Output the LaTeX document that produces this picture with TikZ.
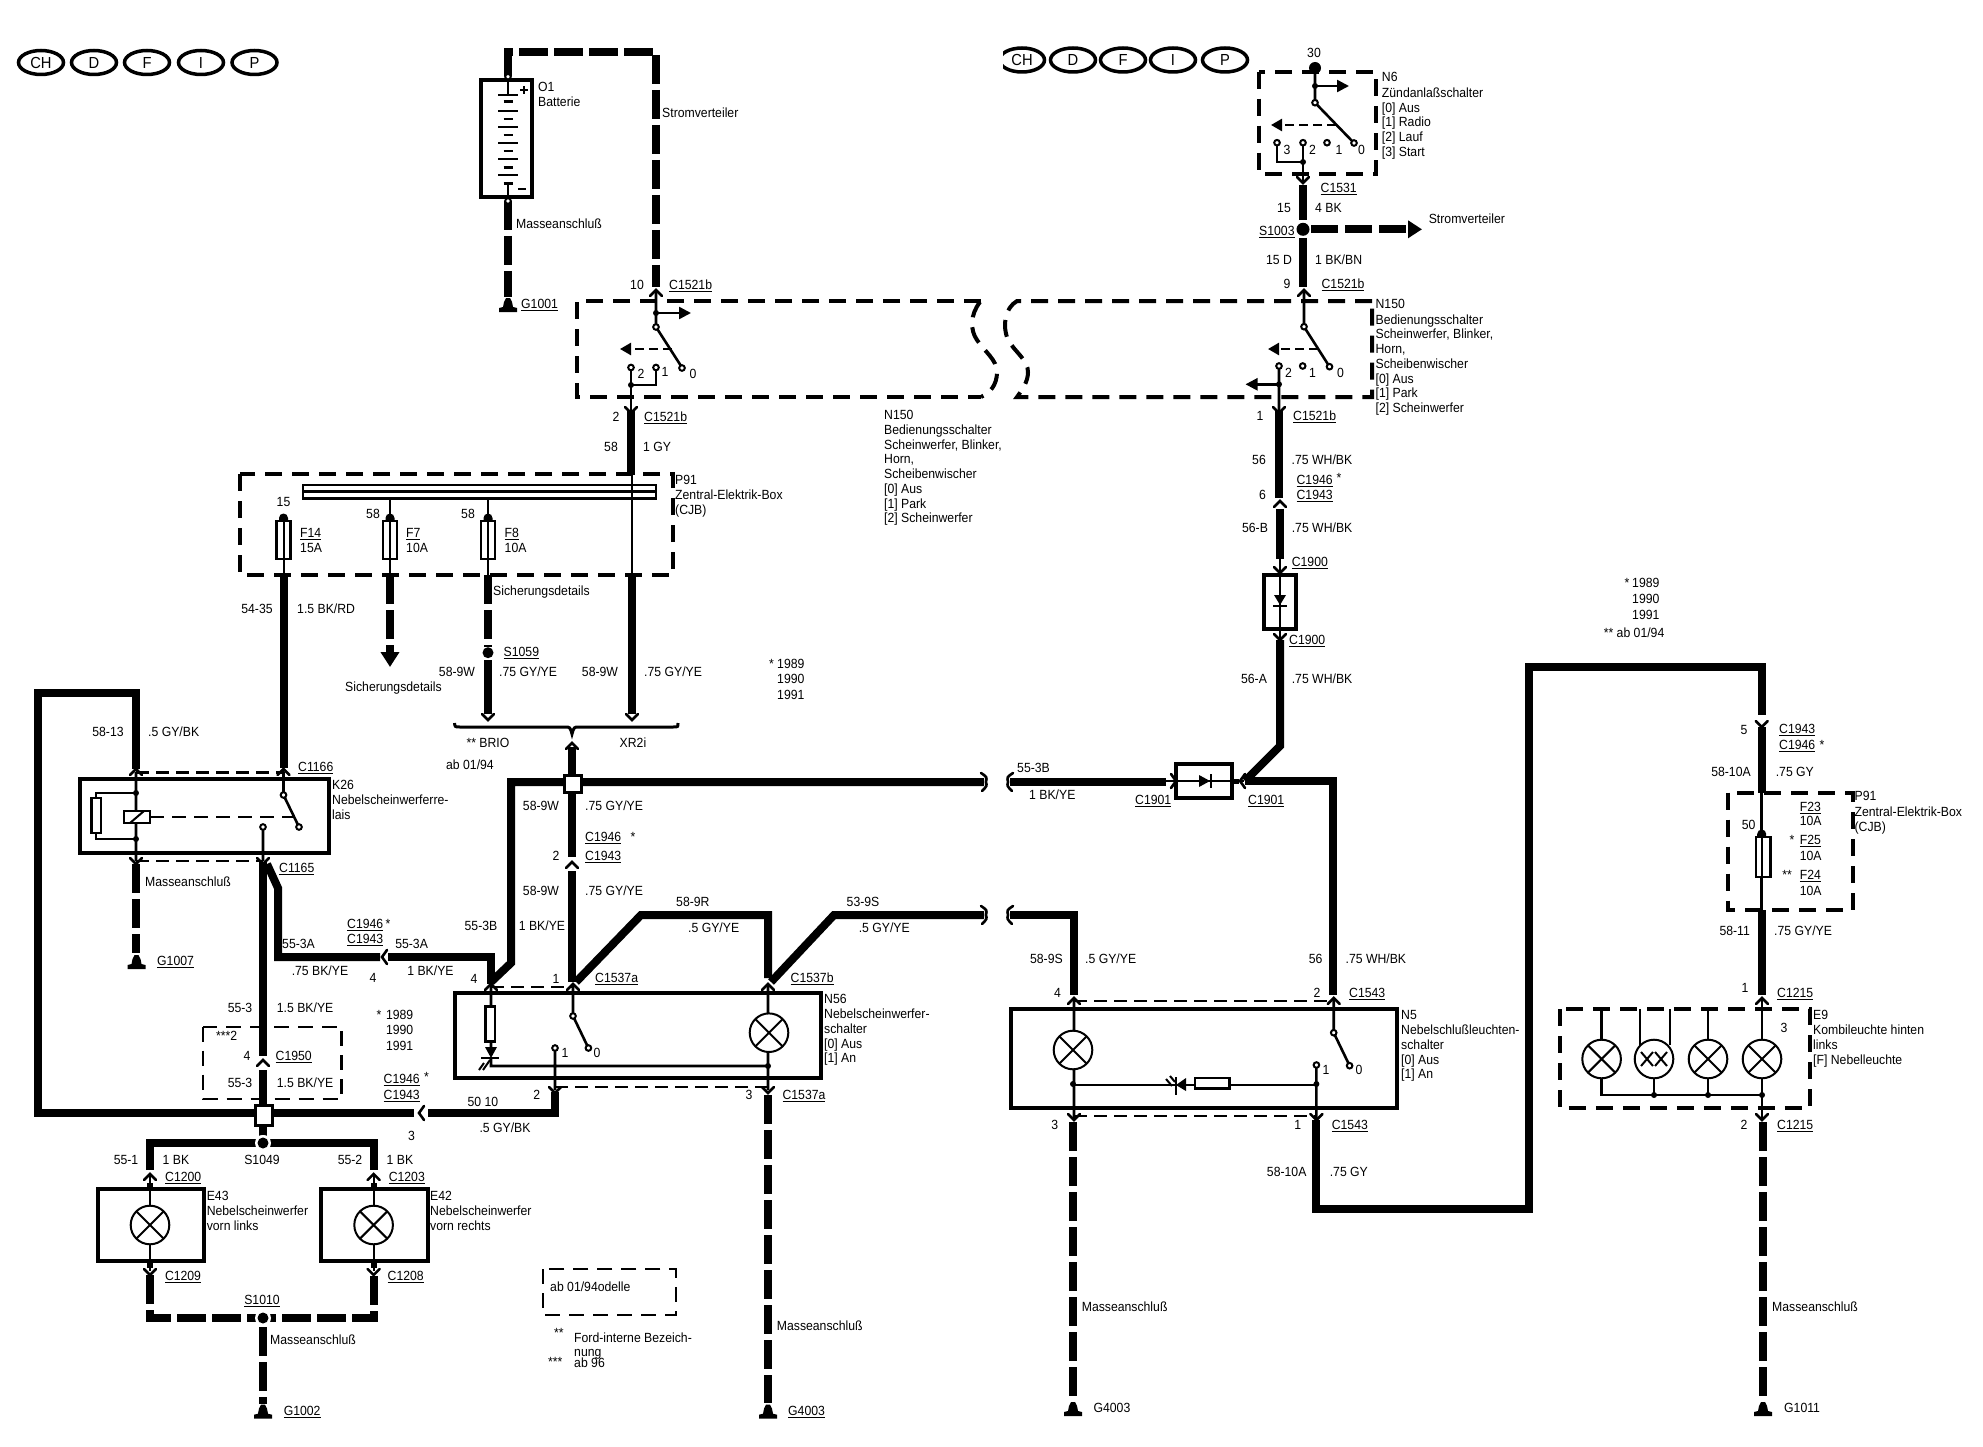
\documentclass[tikz,border=0pt]{standalone}
\usepackage{fontspec}
\setmainfont[FakeStretch=0.92]{Liberation Sans}
\usetikzlibrary{arrows.meta,shapes.geometric}
\newcount\nodeno
\newcommand{\ulbl}[1]{\setbox0\hbox{#1}\rlap{\rule[-2.6pt]{\wd0}{1.2pt}}\box0}
\newcommand{\txtl}[3]{\global\advance\nodeno by 1\node[lbl,anchor=west] (n\the\nodeno) at (#1,#2) {#3};}
\newcommand{\txtc}[3]{\global\advance\nodeno by 1\node[lbl,anchor=center] (n\the\nodeno) at (#1,#2) {#3};}
\newcommand{\txtu}[3]{\global\advance\nodeno by 1\node[lbl,anchor=west] (n\the\nodeno) at (#1,#2) {\ulbl{#3}};}
\newcommand{\flagoval}[3]{\global\advance\nodeno by 1\node[ovl] (n\the\nodeno) at (#1,#2) {#3};}
\newcommand{\fup}[2]{\draw[forkl] (#1-6,#2+6) -- (#1,#2) -- (#1+6,#2+6);}
\newcommand{\fdn}[2]{\draw[forkl] (#1-6,#2-6) -- (#1,#2) -- (#1+6,#2-6);}
\newcommand{\flf}[2]{\draw[forkl] (#1+5,#2-7) -- (#1,#2) -- (#1+5,#2+7);}
\newcommand{\frt}[2]{\draw[forkl] (#1-5,#2-7) -- (#1,#2) -- (#1-5,#2+7);}
\newcommand{\ccon}[2]{\draw[tl,fill=white] (#1,#2) circle[radius=2.8];}
\newcommand{\jdot}[2]{\fill (#1,#2) circle[radius=3];}
\newcommand{\lamp}[2]{\draw[tl,fill=white] (#1,#2) circle[radius=19.3];
  \draw[tl] (#1-13.6,#2-13.6) -- (#1+13.6,#2+13.6) (#1-13.6,#2+13.6) -- (#1+13.6,#2-13.6);}
\newcommand{\gnd}[2]{\fill (#1-9,#2+7) -- (#1+9,#2+7) -- (#1+9,#2+3) -- (#1+5,#2+2) -- (#1+4,#2-3) -- (#1+2,#2-7) -- (#1-2,#2-7) -- (#1-4,#2-3) -- (#1-5,#2+2) -- (#1-9,#2+3) -- cycle;}
\newcommand{\bell}[2]{\fill (#1-4.5,#2) -- (#1-4.5,#2-3) arc[start angle=180,end angle=360,radius=4.5] -- (#1+4.5,#2) -- cycle;}
\newcommand{\fuse}[3]{\draw[tl2,fill=white] (#1-7,#2) rectangle (#1+7,#3); \draw[tl] (#1,#2) -- (#1,#3);}
\newcommand{\brkr}[2]{\draw[forkl] (#1-3,#2-9) .. controls (#1+3,#2-5) .. (#1+2,#2) .. controls (#1+3,#2+4) .. (#1-2,#2+9);}
\newcommand{\brkl}[2]{\draw[forkl] (#1+3,#2-9) .. controls (#1-3,#2-5) .. (#1-2,#2) .. controls (#1-3,#2+4) .. (#1+2,#2+9);}
\tikzset{
  lbl/.style={inner sep=0pt,text height=9pt,text depth=0pt,font=\fontsize{13.3}{15}\selectfont},
  ovl/.style={draw,ellipse,line width=3.5pt,minimum width=45pt,minimum height=24pt,inner sep=0pt,font=\fontsize{16}{18}\selectfont},
  wire/.style={line width=8pt,miter limit=10},
  wdash/.style={line width=8pt,dash pattern=on 29pt off 6pt},
  tl/.style={line width=2pt},
  tl2/.style={line width=2.6pt},
  forkl/.style={line width=2.6pt,line cap=round},
  thin dash/.style={line width=2.4pt,dash pattern=on 13pt off 7pt},
  boxd/.style={line width=4pt,dash pattern=on 17pt off 10pt},
  boxs/.style={line width=2.4pt,dash pattern=on 15pt off 9pt},
  comp/.style={line width=4pt},
  harr/.style={line width=2.4pt,-{Triangle[length=12pt,width=12pt]}},
  darr/.style={line width=2.4pt,dash pattern=on 9pt off 5pt,-{Triangle[length=11pt,width=12pt]}},
}
\begin{document}
\begin{tikzpicture}[x=1pt,y=-1pt]
\useasboundingbox (0,0) rectangle (1983,1447);
% flag ovals
\flagoval{41}{62.5}{CH}\flagoval{94}{62.5}{D}\flagoval{147}{62.5}{F}\flagoval{201}{62.5}{I}\flagoval{254.5}{62.5}{P}
\flagoval{1022}{60}{CH}\flagoval{1073}{60}{D}\flagoval{1123}{60}{F}\flagoval{1173}{60}{I}\flagoval{1225}{60}{P}
\fill[white] (990,40) rectangle (1002.5,80);

% ---------- battery
\coordinate (b1) at (508,76);\coordinate (b2) at (508,52);\coordinate (b3) at (656,52);\coordinate (b4) at (656,287);
\coordinate (b5) at (508,201);\coordinate (g1) at (508,297);
\draw[wdash] (b1)--(b2)--(b3)--(b4);
\draw[wdash] (b5)--(g1);
\draw[comp,fill=white] (481,80) rectangle (532,197);
\draw[tl] (508,76)--(508,95) (508,183)--(508,201);
\foreach \y in {95,111,127,143,175}{\draw[line width=2.6pt] (498,\y)--(518,\y);}
\draw[tl] (498,159)--(518,159);
\foreach \y in {101.7,119,135,151,167.7}{\draw[line width=2.6pt] (503.5,\y)--(512.5,\y);}
\draw[tl2] (503.5,183.3)--(512.5,183.3);
\draw[line width=2.4pt] (520,90)--(528,90) (524,86)--(524,94) (518,189)--(526,189);
\ccon{508}{76.7}\ccon{508}{201}
\gnd{508}{305}
\txtl{538}{87}{O1}\txtl{538}{102}{Batterie}\txtl{516}{224}{Masseanschluß}\txtu{521}{304}{G1001}\txtl{662}{113}{Stromverteiler}

% ---------- N150 box
\draw[boxd] (981,301) -- (577,301) -- (577,397) -- (981,397);
\draw[boxd] (980,302) .. controls (970,315) and (970,330) .. (977,340) .. controls (985,352) and (997,360) .. (997,372) .. controls (997,385) and (990,393) .. (981,397);
\draw[boxd] (1372,301) -- (1017,301) .. controls (1005,308) and (1002,325) .. (1008,340) .. controls (1015,352) and (1028,360) .. (1028,372) .. controls (1028,382) and (1022,390) .. (1017,397) -- (1372,397) -- (1372,301);
% left switch
\coordinate (s1a) at (656,290);\coordinate (s1b) at (656,327);\coordinate (s1c) at (682,367.5);
\coordinate (s1d) at (631,367.5);\coordinate (s1e) at (656,367.5);\coordinate (s1f) at (631,385);\coordinate (s1g) at (631,411);\coordinate (s1h) at (631,475);
\draw[tl2] (s1a)--(s1b)--(s1c);
\draw[harr] (656,313)--(691,313);\jdot{656}{313}
\draw[darr] (672,349)--(620,349);
\draw[tl2] (s1d)--(s1g) (s1e)--(656,385)--(s1f);\jdot{631}{385}
\draw[wire] (s1g)--(s1h);
\ccon{656}{327}\ccon{682}{368}\ccon{631}{367.5}\ccon{656}{367.5}
\fup{656}{290}\fdn{631}{413}
\txtc{637}{285}{10}\txtl{669}{285}{\ulbl{C1521b}}\txtc{641}{374}{2}\txtc{665}{372}{1}\txtc{693}{374}{0}
\txtc{616}{417}{2}\txtu{644}{417}{C1521b}\txtc{611}{447}{58}\txtl{643}{447}{1 GY}
% centre N150 text
\txtl{884}{415.3}{N150}\txtl{884}{430}{Bedienungsschalter}\txtl{884}{444.7}{Scheinwerfer, Blinker,}\txtl{884}{459.4}{Horn,}\txtl{884}{474}{Scheibenwischer}\txtl{884}{488.8}{[0] Aus}\txtl{884}{503.5}{[1] Park}\txtl{884}{518}{[2] Scheinwerfer}

% ---------- P91 (left)
\draw[boxd] (240,474) rectangle (673,575);
\draw[tl2,fill=white] (303,485) rectangle (656,498.3);\draw[tl2] (303,491.5)--(656,491.5);
\coordinate (p1) at (632,475);\coordinate (p2) at (632,575);\coordinate (p3) at (632,714);
\draw[tl] (p1)--(p2);\draw[wire] (p2)--(p3);
\coordinate (f1a) at (283.5,575);\coordinate (f1b) at (283.5,768);
\coordinate (f2a) at (390,575);\coordinate (f2b) at (390,667);
\coordinate (f3a) at (488,575);\coordinate (f3b) at (488,647);\coordinate (f3c) at (488,660);\coordinate (f3d) at (488,714);
\draw[tl] (390,498)--(390,515) (488,498)--(488,515);
\foreach \x in {283.5,390,488}{\draw[tl] (\x,515)--(\x,575);\bell{\x}{521}}
\fuse{283.5}{521}{559}\fuse{390}{521}{559}\fuse{488}{521}{559}
\draw[wire] (f1a)--(f1b);
\draw[wdash,-{Triangle[length=15pt,width=18pt]}] (f2a)--(f2b);
\draw[wdash] (f3a)--(f3b);\draw[wire] (f3c)--(f3d);
\fill (488,652.7) circle[radius=5.5];
\fdn{488}{720}\fdn{632}{720}
\txtc{283.5}{502}{15}\txtc{373}{514}{58}\txtc{468}{514}{58}
\txtu{300}{533}{F14}\txtl{300}{548}{15A}\txtu{406}{533}{F7}\txtl{406}{548}{10A}\txtu{504.5}{533}{F8}\txtl{504.5}{548}{10A}
\txtl{675}{480}{P91}\txtl{675}{495}{Zentral-Elektrik-Box}\txtl{675}{510}{(CJB)}
\txtc{257}{609}{54-35}\txtl{297}{609}{1.5 BK/RD}\txtl{493}{591}{Sicherungsdetails}\txtl{345}{687}{Sicherungsdetails}
\txtu{503.5}{652}{S1059}\txtc{457}{672}{58-9W}\txtl{499}{672}{.75 GY/YE}\txtc{600}{672}{58-9W}\txtl{644}{672}{.75 GY/YE}
% brace
\draw[line width=3pt] (454.5,723) .. controls (455,727) .. (460,727) -- (565,727) .. controls (570,727) .. (572,734) .. controls (574,727) .. (579,727) -- (673,727) .. controls (678,727) .. (678,723);
\txtc{488}{743}{** BRIO}\txtc{633}{743}{XR2i}\txtc{470}{765}{ab 01/94}
\txtl{769}{664}{*}\txtl{777}{664}{1989}\txtl{777}{679}{1990}\txtl{777}{695}{1991}

% ---------- vertical 58-9W
\coordinate (v1) at (572,747);\coordinate (v2) at (572,857);\coordinate (v3) at (572,871);\coordinate (v4) at (572,982);
\draw[wire] (v1)--(v2);\draw[wire] (v3)--(v4);\fup{572}{743}\fup{572}{862}
\coordinate (h1) at (984,782);\coordinate (h2) at (511,782);\coordinate (h3) at (511,963);\coordinate (h4) at (491,982);
\draw[wire] (h1)--(h2)--(h3)--(h4);
\coordinate (h5) at (1010,782);\coordinate (h6) at (1166,782);
\draw[wire] (h5)--(h6);
\brkr{984}{782}\brkl{1010}{782}
\draw[line width=3pt,fill=white] (564,775) rectangle (581,792);
\txtc{541}{806}{58-9W}\txtl{585}{806}{.75 GY/YE}\txtu{585}{837}{C1946}\txtc{633}{837}{*}\txtc{556}{856}{2}\txtu{585}{856}{C1943}
\txtc{541}{891}{58-9W}\txtl{585}{891}{.75 GY/YE}\txtc{481}{926}{55-3B}\txtc{542}{926}{1 BK/YE}
\txtl{1017}{768}{55-3B}\txtl{1029}{795}{1 BK/YE}

% ---------- K26
\coordinate (k1) at (136,769);\coordinate (k2) at (136,693);\coordinate (k3) at (38,693);\coordinate (k4) at (38,1113);\coordinate (k5) at (414,1113);
\coordinate (k6) at (428,1113);\coordinate (k7) at (555,1113);\coordinate (k8) at (555,1092);
\draw[wire] (k1)--(k2)--(k3)--(k4)--(k5);\draw[wire] (k6)--(k7)--(k8);
\flf{419}{1113}
\fup{136}{769}\fup{283.5}{769}
\draw[thin dash] (136,772.5)--(283.5,772.5) (136,861)--(263,861);
\draw[comp,fill=white] (80,779) rectangle (329,853);
\draw[tl2] (136,772)--(136,861) (283.5,772)--(283.5,795)--(299,827) (263,827)--(263,861);
\draw[tl2] (136,793)--(96,793)--(96,839)--(136,839);
\draw[tl2,fill=white] (91.5,798) rectangle (101,833);
\jdot{136}{793}\jdot{136}{839}
\draw[tl2,fill=white] (124,811) rectangle (150,823);\draw[tl] (130,823)--(144,811);
\draw[line width=2.4pt,dash pattern=on 14pt off 8pt] (150,817)--(293,817);
\ccon{283.5}{795}\ccon{299}{827}\ccon{263}{827}
\fdn{136}{864}\fdn{263}{864}
\coordinate (kg1) at (136,864);\coordinate (kg2) at (136,953);
\draw[wdash] (kg1)--(kg2);\gnd{136.5}{962}
\coordinate (m1) at (263,862);\coordinate (m2) at (263,1056);\coordinate (m3) at (263,1070);\coordinate (m4) at (263,1140);
\draw[wire] (m1)--(m2);\draw[wire] (m3)--(m4);\fup{263}{1060}
\coordinate (a1) at (267,864);\coordinate (a2) at (278,888);\coordinate (a3) at (278,957);\coordinate (a4) at (380,957);\coordinate (a5) at (388,957);\coordinate (a6) at (491,957);\coordinate (a7) at (491,984);
\draw[wire] (a1)--(a2)--(a3)--(a4);\draw[wire] (a5)--(a6)--(a7);\flf{382}{957}
\draw[line width=3pt,fill=white] (255,1105) rectangle (272,1125);
\fill[white] (263,1143) circle[radius=8];\fill (263,1143) circle[radius=5.5];
\txtc{108}{732}{58-13}\txtl{148}{732}{.5 GY/BK}\txtu{298}{767}{C1166}\txtl{332}{785}{K26}\txtl{332}{800}{Nebelscheinwerferre-}\txtl{332}{815}{lais}
\txtu{279}{868}{C1165}\txtl{145}{881.6}{Masseanschluß}\txtu{157}{961}{G1007}
\txtl{282}{944}{55-3A}\txtu{347}{924}{C1946}\txtc{388}{924}{*}\txtu{347}{939}{C1943}\txtc{411.6}{944}{55-3A}
\txtc{320}{971}{.75 BK/YE}\txtc{373}{978}{4}\txtc{430.5}{971}{1 BK/YE}\txtc{474}{979}{4}\txtc{556}{979}{1}
\txtu{595}{978}{C1537a}\txtu{790.5}{978}{C1537b}
\txtc{240}{1007.7}{55-3}\txtl{276.7}{1007.7}{1.5 BK/YE}
\txtc{379}{1015}{*}\txtl{385.8}{1015}{1989}\txtl{385.8}{1030}{1990}\txtl{385.8}{1046}{1991}
\draw[boxs] (203,1026.7) rectangle (341.6,1099);
\txtl{216}{1035.7}{***2}\txtc{247}{1056}{4}\txtu{275.5}{1056}{C1950}\txtc{240}{1083}{55-3}\txtl{276.7}{1083}{1.5 BK/YE}
\txtu{383.5}{1079}{C1946}\txtc{426.5}{1077}{*}\txtu{383.5}{1095}{C1943}\txtc{483}{1102}{50 10}\txtc{505}{1128}{.5 GY/BK}\txtc{411.6}{1135.7}{3}

% ---------- E43 / E42
\coordinate (l1) at (150,1170);\coordinate (l2) at (150,1143);\coordinate (l3) at (373.6,1143);\coordinate (l4) at (373.6,1170);
\draw[wire] (l1)--(l2)--(l3)--(l4);
\fill[white] (263,1143) circle[radius=8];\fill (263,1143) circle[radius=5.5];
\foreach \x in {150,373.6}{
  \draw[line width=6pt] (\x,1183)--(\x,1189) (\x,1261)--(\x,1268);
  \draw[tl] (\x,1176)--(\x,1189) (\x,1261)--(\x,1271);
  \fup{\x}{1174}\fdn{\x}{1275}
}
\draw[comp,fill=white] (97.6,1189) rectangle (203.8,1260.7);
\draw[comp,fill=white] (321,1189) rectangle (427.7,1260.7);
\draw[tl] (150,1189)--(150,1261) (373.6,1189)--(373.6,1261);
\lamp{150}{1225}\lamp{373.6}{1225}
\coordinate (lb1) at (150,1275);\coordinate (lb2) at (150,1318);\coordinate (lb3) at (373.6,1318);\coordinate (lb4) at (373.6,1275);
\draw[wdash] (lb1)--(lb2)--(lb3)--(lb4);
\fill[white] (263,1318) circle[radius=8];\fill (263,1318) circle[radius=5.5];
\coordinate (lg1) at (263,1327);\coordinate (lg2) at (263,1404);
\draw[wdash] (lg1)--(lg2);\gnd{263}{1411.7}
\txtc{262}{1160}{S1049}\txtc{126}{1160}{55-1}\txtc{176}{1160}{1 BK}\txtc{350}{1160}{55-2}\txtc{400}{1160}{1 BK}
\txtu{165}{1176.7}{C1200}\txtu{388.6}{1176.7}{C1203}
\txtl{206.6}{1196}{E43}\txtl{206.6}{1211}{Nebelscheinwerfer}\txtl{206.6}{1226}{vorn links}
\txtl{430}{1196}{E42}\txtl{430}{1211}{Nebelscheinwerfer}\txtl{430}{1226}{vorn rechts}
\txtu{164.8}{1276}{C1209}\txtu{387.5}{1276}{C1208}
\global\advance\nodeno by 1\node[lbl,anchor=center] (n\the\nodeno) at (262,1300) {\ulbl{S1010}};
\txtl{270}{1340}{Masseanschluß}\txtu{283.6}{1410.7}{G1002}
\draw[boxs] (543,1269) rectangle (675.7,1315);
\txtl{550}{1287}{ab 01/94odelle}
\txtl{554}{1333}{**}\txtl{574}{1337.7}{Ford-interne Bezeich-}\txtl{574}{1352}{nung}\txtl{548}{1361.7}{***}\txtl{574}{1363}{ab 96}

% ---------- N56
\coordinate (r1) at (641,915);\coordinate (r2) at (768,915);\coordinate (r3) at (768,978);\coordinate (r0) at (576,982);
\draw[wire] (r0)--(r1)--(r2)--(r3);
\coordinate (q1) at (771,982);\coordinate (q2) at (834,915);\coordinate (q3) at (984,915);\coordinate (q4) at (1010,915);\coordinate (q5) at (1074,915);\coordinate (q6) at (1074,995);
\draw[wire] (q1)--(q2)--(q3);\draw[wire] (q4)--(q5)--(q6);
\brkr{984}{915}\brkl{1010}{915}
\fup{491}{984}\fup{573}{984}\fup{768}{984}
\draw[thin dash] (491,987)--(573,987);
\draw[comp,fill=white] (455,993) rectangle (821,1078);
\draw[tl2] (491,984)--(491,1048) (573,984)--(573,1016)--(588.4,1048) (768,984)--(768,1090) (491,1058)--(491,1066)--(768,1066) (555,1048)--(555,1090);
\draw[tl2,fill=white] (485.6,1006.7) rectangle (495,1041.5);
\fill (485,1047)--(497,1047)--(491,1058)--cycle;
\draw[tl2] (481,1058)--(499,1058);
\draw[tl] (490,1060)--(483,1070) (484,1063)--(479,1070);
\jdot{768}{1066}
\lamp{769}{1032.7}
\ccon{573}{1016}\ccon{588.4}{1048}\ccon{555}{1048}
\draw[thin dash] (555,1087)--(768,1087);
\fdn{555}{1093}\fdn{768}{1093}
\coordinate (ng1) at (768,1095);\coordinate (ng2) at (768,1403);
\draw[wdash] (ng1)--(ng2);\gnd{768}{1411.7}
\txtl{676}{902}{58-9R}\txtl{688}{928}{.5 GY/YE}\txtl{846.5}{902}{53-9S}\txtl{858.6}{928}{.5 GY/YE}
\txtl{824}{999}{N56}\txtl{824}{1014}{Nebelscheinwerfer-}\txtl{824}{1029}{schalter}\txtl{824}{1044}{[0] Aus}\txtl{824}{1058}{[1] An}
\txtc{597}{1053}{0}\txtc{565}{1053}{1}\txtc{536.7}{1095}{2}\txtc{749}{1095}{3}\txtu{782.4}{1095}{C1537a}
\txtl{776.7}{1326}{Masseanschluß}\txtu{788}{1410.7}{G4003}

% ---------- N6
\draw[boxd] (1259.4,71.7) rectangle (1376,174);
\coordinate (i1) at (1315,68);\coordinate (i2) at (1315,102.7);\coordinate (i3) at (1354,143);
\draw[tl2] (i1)--(i2)--(i3);
\fill (1315,68) circle[radius=6];\jdot{1315}{86}
\draw[harr] (1315,86)--(1349,86);
\draw[darr] (1336,125)--(1271,125);
\draw[tl2] (1277,143)--(1277,162)--(1303,162) (1303,143)--(1303,183);\jdot{1303}{162}
\ccon{1315}{102.7}\ccon{1354}{143}\ccon{1277}{142.7}\ccon{1303}{142.7}\ccon{1327}{142.7}
\fdn{1303}{183}
\coordinate (i4) at (1303,185);\coordinate (i5) at (1303,220);\coordinate (i6) at (1303,238);\coordinate (i7) at (1303,287);\coordinate (i8) at (1311,229.3);\coordinate (i9) at (1422,229.3);
\draw[wire] (i4)--(i5);\draw[wire] (i6)--(i7);
\fill (1303,229.3) circle[radius=6.5];
\draw[wdash,dash pattern=on 27pt off 7pt,-{Triangle[length=14pt,width=17pt]}] (i8)--(i9);
\fup{1304}{290}
\txtc{1314}{52.7}{30}\txtl{1381.7}{77}{N6}\txtl{1381.7}{92.7}{Zündanlaßschalter}\txtl{1381.7}{107.7}{[0] Aus}\txtl{1381.7}{122}{[1] Radio}\txtl{1381.7}{137}{[2] Lauf}\txtl{1381.7}{152}{[3] Start}
\txtc{1287}{150}{3}\txtc{1312.5}{150}{2}\txtc{1339}{150}{1}\txtc{1361.6}{150}{0}
\txtu{1320.5}{187.7}{C1531}\txtc{1284}{208}{15}\txtl{1315}{208}{4 BK}\txtu{1259}{230.7}{S1003}\txtl{1428.6}{219}{Stromverteiler}
\txtc{1279}{260}{15 D}\txtl{1315}{260}{1 BK/BN}\txtc{1287}{284}{9}\txtu{1321.4}{284}{C1521b}

% right switch N150
\coordinate (s2a) at (1304,290);\coordinate (s2b) at (1304,326.7);\coordinate (s2c) at (1329.5,366.7);\coordinate (s2d) at (1279,366);\coordinate (s2e) at (1279,412);
\draw[tl2] (s2a)--(s2b)--(s2c) (s2d)--(s2e);
\draw[darr] (1318,349)--(1268,349);
\draw[harr] (1279,384.3)--(1245.5,384.3);\jdot{1279}{384.3}
\ccon{1304}{326.7}\ccon{1329.5}{366.7}\ccon{1279}{366}\ccon{1302.7}{366}
\fdn{1279}{413}
\coordinate (s2f) at (1279,411);\coordinate (s2g) at (1279,498);
\draw[wire] (s2f)--(s2g);
\txtc{1288.4}{373}{2}\txtc{1312.5}{373}{1}\txtc{1340.6}{373}{0}
\txtl{1375.4}{304}{N150}\txtl{1375.4}{319.7}{Bedienungsschalter}\txtl{1375.4}{334}{Scheinwerfer, Blinker,}\txtl{1375.4}{349}{Horn,}\txtl{1375.4}{364}{Scheibenwischer}\txtl{1375.4}{379}{[0] Aus}\txtl{1375.4}{393}{[1] Park}\txtl{1375.4}{408}{[2] Scheinwerfer}
\txtc{1260}{416}{1}\txtu{1293}{416}{C1521b}\txtc{1259}{460}{56}\txtl{1291.5}{460}{.75 WH/BK}\txtu{1296.4}{480}{C1946}\txtc{1339}{478}{*}\txtc{1262.5}{495}{6}\txtu{1296.4}{495}{C1943}

% diode C1900
\fup{1280}{501}
\coordinate (d1) at (1280,509);\coordinate (d2) at (1280,559);
\draw[wire] (d1)--(d2);
\draw[tl2] (1280,559)--(1280,575);\fdn{1280}{573}
\draw[comp,fill=white] (1263.5,575) rectangle (1296,629);
\draw[tl] (1280,575)--(1280,640);
\fill (1274,595)--(1286,595)--(1280,605)--cycle;\draw[tl2] (1273,606)--(1287,606);
\fdn{1280}{640}
\coordinate (d3) at (1280,640);\coordinate (d4) at (1280,746);\coordinate (d5) at (1245,781);\coordinate (d6) at (1333,781);\coordinate (d7) at (1333,995);
\draw[wire] (d3)--(d4)--(d5);
\draw[wire] (d5)--(d6)--(d7);
\txtc{1255}{528}{56-B}\txtl{1291.6}{528}{.75 WH/BK}\txtu{1291.6}{562}{C1900}\txtu{1289}{640}{C1900}\txtc{1254}{679}{56-A}\txtl{1291.6}{679}{.75 WH/BK}
% diode C1901
\frt{1176}{781}
\draw[comp,fill=white] (1176,764) rectangle (1232,798);
\draw[tl] (1164,781)--(1244,781);\draw[line width=5pt] (1232,781)--(1239,781);
\fill (1199,775)--(1199,787)--(1210,781)--cycle;\draw[tl2] (1211,774)--(1211,788);
\flf{1240}{781}
\txtu{1135}{800}{C1901}\txtu{1248}{800}{C1901}

% ---------- N5
\fup{1074}{998}\fup{1333.7}{998}
\draw[thin dash] (1074,1000.7)--(1333.7,1000.7);
\draw[comp,fill=white] (1010.5,1009) rectangle (1397,1107.7);
\draw[tl2] (1074,998)--(1074,1120) (1333.7,998)--(1333.7,1032.7)--(1349.6,1065.7) (1316.4,1065)--(1316.4,1120);
\draw[tl2] (1073,1085)--(1316.4,1085);
\draw[tl2,fill=white] (1195,1078) rectangle (1229.4,1088.5);
\fill (1186,1078)--(1186,1091)--(1176,1085)--cycle;\draw[tl2] (1176,1077)--(1176,1095);
\draw[tl] (1170,1076)--(1175,1082) (1166,1079)--(1172,1086);
\jdot{1073}{1084}\jdot{1316.4}{1084}
\lamp{1073}{1050}
\ccon{1333.7}{1032.7}\ccon{1349.6}{1065.7}\ccon{1316.4}{1065}
\draw[thin dash] (1074,1115.7)--(1316.4,1115.7);
\fdn{1074}{1120}\fdn{1316.4}{1120}
\coordinate (g41) at (1073,1122);\coordinate (g42) at (1073,1400);
\draw[wdash] (g41)--(g42);\gnd{1073}{1409}
\coordinate (w1) at (1316.4,1120);\coordinate (w2) at (1316.4,1209);\coordinate (w3) at (1528.5,1209);\coordinate (w4) at (1528.5,667);\coordinate (w5) at (1761.7,667);\coordinate (w6) at (1761.7,715);
\draw[wire] (w1)--(w2)--(w3)--(w4)--(w5)--(w6);
\txtc{1046.4}{959}{58-9S}\txtl{1085}{959}{.5 GY/YE}\txtc{1315.7}{959}{56}\txtl{1345.4}{959}{.75 WH/BK}
\txtc{1057.5}{992.7}{4}\txtc{1317}{992.7}{2}\txtu{1349}{992.7}{C1543}
\txtl{1401}{1015}{N5}\txtl{1401}{1030}{Nebelschlußleuchten-}\txtl{1401}{1045}{schalter}\txtl{1401}{1060}{[0] Aus}\txtl{1401}{1074}{[1] An}
\txtc{1359}{1070}{0}\txtc{1326}{1070}{1}\txtc{1054.7}{1125}{3}\txtc{1297.8}{1125}{1}\txtu{1331.6}{1125}{C1543}
\txtc{1286.7}{1171.7}{58-10A}\txtl{1329.6}{1171.7}{.75 GY}
\txtl{1081.6}{1306.7}{Masseanschluß}\txtl{1093.4}{1407.7}{G4003}
\txtl{1624.5}{583}{*}\txtl{1632}{583}{1989}\txtl{1632}{599}{1990}\txtl{1632}{615}{1991}\txtl{1603.6}{633}{** ab 01/94}

% ---------- P91 (right) and E9
\fdn{1761.7}{727}
\coordinate (e1) at (1761.7,727);\coordinate (e2) at (1761.7,793);\coordinate (e3) at (1761.7,910);\coordinate (e4) at (1761.7,995);
\draw[wire] (e1)--(e2);\draw[wire] (e3)--(e4);
\draw[boxd] (1727.7,792.7) rectangle (1853,910);
\draw[tl2] (1761.7,793)--(1761.7,910);\bell{1761.7}{837}
\draw[tl2,fill=white] (1756,837) rectangle (1770.4,877);\draw[tl] (1761.7,837)--(1761.7,877);
\txtc{1744}{730}{5}\txtu{1779}{729}{C1943}\txtu{1779}{745.3}{C1946}\txtc{1822}{745}{*}\txtc{1731}{771.7}{58-10A}\txtl{1775.6}{771.7}{.75 GY}
\txtc{1748.6}{825}{50}\txtu{1799.6}{807}{F23}\txtl{1799.6}{821}{10A}\txtc{1792}{840}{*}\txtu{1799.6}{840}{F25}\txtl{1799.6}{856}{10A}\txtc{1787}{875}{**}\txtu{1799.6}{875}{F24}\txtl{1799.6}{891}{10A}
\txtl{1854.4}{796}{P91}\txtl{1854.4}{812}{Zentral-Elektrik-Box}\txtl{1854.4}{827}{(CJB)}
\txtc{1734.7}{931}{58-11}\txtl{1774}{931}{.75 GY/YE}\txtc{1745}{988}{1}\txtu{1777}{992.7}{C1215}
\fup{1762}{998}
\draw[boxd] (1559.5,1009) rectangle (1810,1107.7);
\draw[tl2] (1601.6,1009)--(1601.6,1095)--(1762,1095) (1640,1009)--(1640,1045) (1670,1009)--(1670,1045) (1654,1075)--(1654,1095) (1708,1009)--(1708,1095) (1762,998)--(1762,1120);
\lamp{1601.6}{1059}\lamp{1708}{1059}\lamp{1762}{1059}
\draw[tl,fill=white] (1654,1059) circle[radius=19.3];
\draw[tl] (1641,1052)--(1653,1066) (1641,1066)--(1653,1052) (1655,1052)--(1667,1066) (1655,1066)--(1667,1052);
\jdot{1654}{1095}\jdot{1708}{1095}\jdot{1762}{1095}
\fdn{1762}{1120}
\coordinate (e5) at (1763,1122);\coordinate (e6) at (1763,1401);
\draw[wdash] (e5)--(e6);\gnd{1763}{1409}
\txtl{1813}{1015}{E9}\txtl{1813}{1030}{Kombileuchte hinten}\txtl{1813}{1045}{links}\txtl{1813}{1060}{[F] Nebelleuchte}\txtc{1784}{1028}{3}
\txtc{1744}{1125}{2}\txtu{1777}{1125}{C1215}\txtl{1772}{1306.7}{Masseanschluß}\txtl{1784}{1407.7}{G1011}
\end{tikzpicture}
\end{document}
